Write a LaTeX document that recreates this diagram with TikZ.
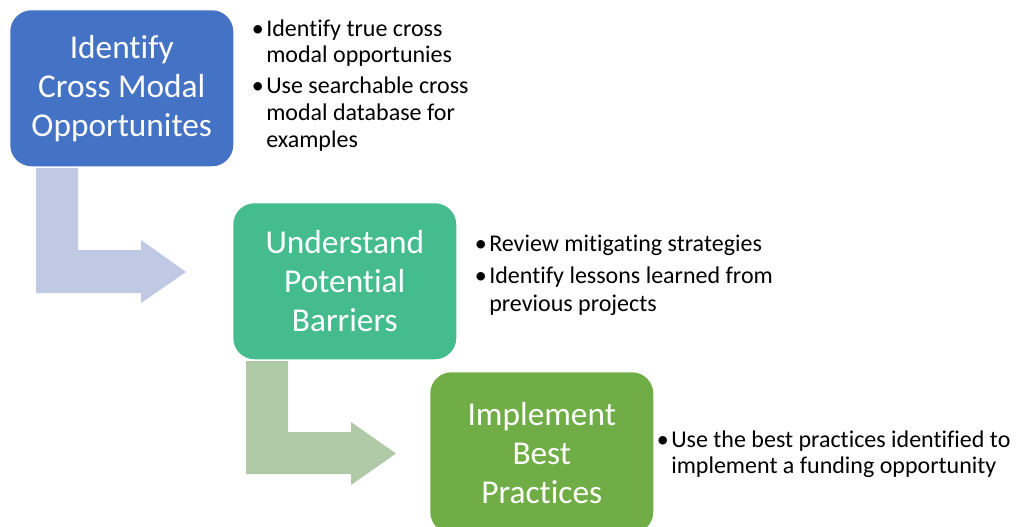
\documentclass[tikz,border=0pt]{standalone}
\usepackage{fontspec}
\setmainfont{Carlito}[Ligatures=NoCommon]
\definecolor{cblue}{HTML}{4472C4}
\definecolor{cteal}{HTML}{45BC8D}
\definecolor{cgreen}{HTML}{70AD47}
\definecolor{arrblue}{HTML}{BFC9E4}
\definecolor{arrgreen}{HTML}{B0CAA8}
\begin{document}
\begin{tikzpicture}[x=0.75pt,y=-0.75pt,
  stepbox/.style={rounded corners=16pt, minimum width=167.25pt, minimum height=117pt,
    inner sep=0pt, text=white, align=center, anchor=north west,
    font=\fontsize{25pt}{29.25pt}\selectfont},
  bl/.style={anchor=base west, inner sep=0pt, text=black, font=\fontsize{18pt}{20pt}\selectfont},
  bul/.style={anchor=base east, inner sep=0pt, text=black, font=\fontsize{18pt}{20pt}\selectfont}
]
\useasboundingbox (0,0) rectangle (1016,527);
\begin{scope}
\clip (0,0) rectangle (1016,527);
% block arrows
\fill[arrblue] (36,168) -- (78,168) -- (78,250) -- (141,250) -- (141,240) -- (186,272)
  -- (141,303) -- (141,293) -- (36,293) -- cycle;
\fill[arrgreen] (246,361) -- (288,361) -- (288,432) -- (351,432) -- (351,422) -- (396,453.5)
  -- (351,485) -- (351,474) -- (246,474) -- cycle;
% boxes
\node[stepbox, fill=cblue] (box1) at (10,10) {Identify\\Cross Modal\\Opportunites};
\node[stepbox, fill=cteal] (box2) at (233,203) {Understand\\Potential\\Barriers};
\node[stepbox, fill=cgreen, minimum height=120.75pt] (box3) at (430,372) {Implement\\Best\\Practices};
\end{scope}
% list 1
\node[bul] (b1a) at (264,37) {•};
\node[bl] (l1a) at (266,37) {Identify true cross};
\node[bl] (l1b) at (266,63) {modal opportunies};
\node[bul] (b1b) at (264,94) {•};
\node[bl] (l1c) at (266,94) {Use searchable cross};
\node[bl] (l1d) at (266,121) {modal database for};
\node[bl] (l1e) at (266,148) {examples};
% list 2
\node[bul] (b2a) at (487,252) {•};
\node[bl] (l2a) at (489,252) {Review mitigating strategies};
\node[bul] (b2b) at (487,283) {•};
\node[bl] (l2b) at (489,283) {Identify lessons learned from};
\node[bl] (l2c) at (489,311) {previous projects};
% list 3
\node[bul] (b3a) at (669,447) {•};
\node[bl] (l3a) at (671,447) {Use the best practices identified to};
\node[bl] (l3b) at (671,473) {implement a funding opportunity};
\end{tikzpicture}
\end{document}
